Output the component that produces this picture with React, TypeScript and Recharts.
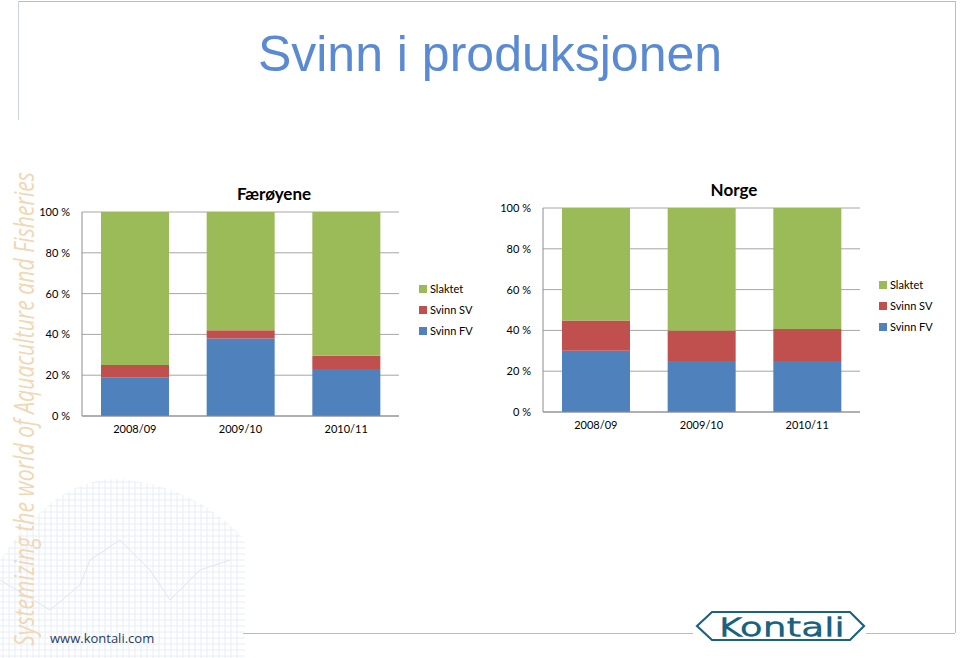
import { BarChart, Bar, XAxis, YAxis, CartesianGrid, Legend } from "recharts"

const categories = ["2008/09", "2009/10", "2010/11"]
const yTicks = [0, 20, 40, 60, 80, 100]

// Færøyene, share of smolt (%)
const faroeFV = [19, 38, 23]
const faroeSV = [6, 4, 6.5]
const faroeSlaktet = [75, 58, 70.5]

// Norge
const norgeFV = [30, 25, 25]
const norgeSV = [14.8, 15, 15.7]
const norgeSlaktet = [55.2, 60, 59.3]

const legendOrder = ["Slaktet", "Svinn SV", "Svinn FV"]

const GREEN = "#9BBB59"
const RED = "#C0504D"
const BLUE = "#4F81BD"
const FRAME = "#A9BFD5"
const chartFont = "Lato, 'Open Sans', sans-serif"

function buildRows(fv: number[], sv: number[], sl: number[]) {
    return categories.map((c, i) => ({ cat: c, fv: fv[i], sv: sv[i], sl: sl[i] }))
}

function LegendList({ payload }: { payload?: { value: string; color: string }[] }) {
    const items = [...(payload ?? [])].sort(
        (a, b) => legendOrder.indexOf(a.value) - legendOrder.indexOf(b.value)
    )
    return (
        <div style={{ fontFamily: chartFont, fontSize: 11, color: "#000" }}>
            {items.map((p) => (
                <div key={p.value} style={{ display: "flex", alignItems: "center", height: 21 }}>
                    <span style={{ width: 8, height: 8, background: p.color, marginRight: 3 }} />
                    <span>{p.value}</span>
                </div>
            ))}
        </div>
    )
}

function StackChart({
    title,
    fv,
    sv,
    sl,
    left,
    top,
    axisWidth
}: {
    title: string
    fv: number[]
    sv: number[]
    sl: number[]
    left: number
    top: number
    axisWidth: number
}) {
    const data = buildRows(fv, sv, sl)
    return (
        <div style={{ position: "absolute", left, top, width: 480, height: 276 }}>
            <div
                style={{
                    position: "absolute",
                    left: 174,
                    width: 200,
                    top: 14,
                    textAlign: "center",
                    fontFamily: chartFont,
                    fontWeight: 700,
                    fontSize: 17,
                    lineHeight: "20px"
                }}
            >
                {title}
            </div>
            <BarChart
                width={480}
                height={276}
                data={data}
                margin={{ top: 42, right: 480 - axisWidth - 317, left: 0, bottom: 0 }}
            >
                <CartesianGrid vertical={false} stroke="#A6A6A6" />
                <XAxis
                    dataKey="cat"
                    height={30}
                    tickLine={false}
                    tickMargin={3}
                    stroke="#8C8C8C"
                    tick={{ fill: "#000", fontSize: 11, fontFamily: chartFont }}
                />
                <YAxis
                    width={axisWidth}
                    domain={[0, 100]}
                    ticks={yTicks}
                    interval={0}
                    tickLine={false}
                    tickMargin={6}
                    stroke="#8C8C8C"
                    tickFormatter={(v: number) => `${v} %`}
                    tick={{ fill: "#000", fontSize: 11, fontFamily: chartFont }}
                />
                <Legend
                    layout="horizontal"
                    align="center"
                    verticalAlign="middle"
                    wrapperStyle={{ left: 419, top: 108, width: 80 }}
                    content={(props: any) => <LegendList payload={props.payload} />}
                />
                <Bar dataKey="fv" name="Svinn FV" stackId="a" fill={BLUE} barSize={68} isAnimationActive={false} />
                <Bar dataKey="sv" name="Svinn SV" stackId="a" fill={RED} barSize={68} isAnimationActive={false} />
                <Bar dataKey="sl" name="Slaktet" stackId="a" fill={GREEN} barSize={68} isAnimationActive={false} />
            </BarChart>
        </div>
    )
}

function Decorations() {
    const gridXs = Array.from({ length: 40 }, (_, i) => 3 + i * 6)
    const gridYs = Array.from({ length: 30 }, (_, i) => 482 + i * 6)
    return (
        <svg width={960} height={658} style={{ position: "absolute", left: 0, top: 0 }}>
            <defs>
                <clipPath id="hill">
                    <path d="M0 658 L0 560 Q60 470 130 480 Q200 490 245 540 L245 658 Z" />
                </clipPath>
            </defs>
            <g clipPath="url(#hill)" stroke="#E6EEF5" strokeWidth={1}>
                {gridXs.map((x) => (
                    <line key={"x" + x} x1={x} x2={x} y1={470} y2={658} />
                ))}
                {gridYs.map((y) => (
                    <line key={"y" + y} x1={0} x2={245} y1={y} y2={y} />
                ))}
                <polyline
                    points="0,580 50,610 80,585 90,560 120,540 150,570 170,600 200,570 230,560"
                    fill="none"
                    stroke="#DCE6F0"
                />
            </g>
            <line x1={18} y1={1.5} x2={955} y2={1.5} stroke={FRAME} />
            <line x1={18.5} y1={1} x2={18.5} y2={120} stroke="#C8D6E4" />
            <line x1={955.5} y1={1} x2={955.5} y2={633} stroke={FRAME} />
            <line x1={243} y1={633.5} x2={693} y2={633.5} stroke={FRAME} />
            <line x1={866} y1={633.5} x2={955} y2={633.5} stroke={FRAME} />
            <text
                transform="translate(34 646) rotate(-90)"
                fontFamily="'Open Sans', sans-serif"
                fontStyle="italic"
                fontWeight={400}
                fontSize={27}
                fill="#F1D7B4"
                textLength={474}
                lengthAdjust="spacingAndGlyphs"
            >
                Systemizing the world of Aquaculture and Fisheries
            </text>
            <text x={50} y={643} fontFamily="'Open Sans', sans-serif" fontSize={13} fill="#1F3A68">
                www.kontali.com
            </text>
            <g stroke="#1A6380" strokeWidth={2.2} fill="none">
                <polygon points="697,626 712,612 850,612 864,626 850,640 712,640" />
            </g>
            <text
                x={781}
                y={636}
                textAnchor="middle"
                fontFamily="'DejaVu Sans', sans-serif"
                fontWeight={300}
                fontSize={24}
                fill="none"
                stroke="#1A6380"
                strokeWidth={1.3}
                textLength={128}
                lengthAdjust="spacingAndGlyphs"
            >
                Kontali
            </text>
        </svg>
    )
}

export default function App() {
    return (
        <div
            style={{
                position: "absolute",
                left: 0,
                top: 0,
                width: 960,
                height: 658,
                background: "#fff",
                overflow: "hidden"
            }}
        >
            <Decorations />
            <div
                style={{
                    position: "absolute",
                    left: 0,
                    width: 980,
                    top: 24,
                    textAlign: "center",
                    fontFamily: "'Liberation Sans', Arial, sans-serif",
                    fontSize: 50,
                    lineHeight: "60px",
                    color: "#5A8BD2"
                }}
            >
                Svinn i produksjonen
            </div>
            <StackChart title="Færøyene" fv={faroeFV} sv={faroeSV} sl={faroeSlaktet} left={0} top={170} axisWidth={82} />
            <StackChart title="Norge" fv={norgeFV} sv={norgeSV} sl={norgeSlaktet} left={460} top={166} axisWidth={83} />
        </div>
    )
}
